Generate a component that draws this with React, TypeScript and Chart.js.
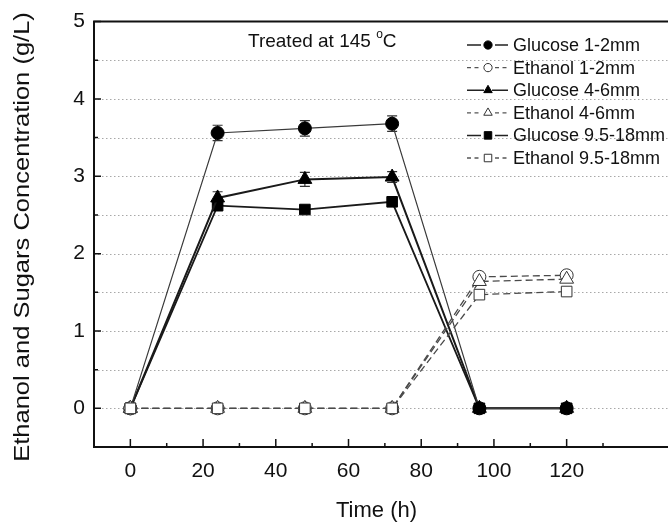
import React, { useEffect, useRef } from 'react';
import { Chart, registerables } from 'chart.js';

Chart.register(...registerables);

const times = [0, 24, 48, 72, 96, 120];
const glucose12 = [0, 3.56, 3.62, 3.68, 0, 0];
const glucose12Err = [0, 0.1, 0.1, 0.1, 0, 0];
const ethanol12 = [0, 0, 0, 0, 1.7, 1.72];
const ethanol12Err = [0, 0, 0, 0, 0.04, 0.04];
const glucose46 = [0, 2.72, 2.96, 2.99, 0, 0];
const glucose46Err = [0, 0.08, 0.09, 0.07, 0, 0];
const ethanol46 = [0, 0, 0, 0, 1.64, 1.67];
const ethanol46Err = [0, 0, 0, 0, 0.04, 0.04];
const glucose918 = [0, 2.62, 2.57, 2.67, 0, 0];
const glucose918Err = [0, 0.04, 0.04, 0.05, 0, 0];
const ethanol918 = [0, 0, 0, 0, 1.47, 1.51];
const ethanol918Err = [0, 0, 0, 0, 0.03, 0.03];

const xMajorTicks = [0, 20, 40, 60, 80, 100, 120];
const xMinorTicks = [10, 30, 50, 70, 90, 110, 130];
const yMajorTicks = [0, 1, 2, 3, 4, 5];
const yMinorTicks = [-0.5, 0.5, 1.5, 2.5, 3.5, 4.5];
const yGridLines = [0, 0.5, 1, 1.5, 2, 2.5, 3, 3.5, 4, 4.5];

const xTitle = 'Time (h)';
const yTitle = 'Ethanol and Sugars Concentration (g/L)';
const noteText = 'Treated at 145 ';
const FONT = '"Liberation Sans", Arial, sans-serif';

const toPts = (arr: number[]) => times.map((t, i) => ({ x: t, y: arr[i] }));

const seriesDefs = [
  { label: 'Glucose 1-2mm', data: glucose12, err: glucose12Err, style: 'circle', filled: true, dash: [] as number[], width: 1.2, color: '#3a3a3a', order: 2 },
  { label: 'Ethanol 1-2mm', data: ethanol12, err: ethanol12Err, style: 'circle', filled: false, dash: [7, 4], width: 1.3, color: '#4a4a4a', order: 1 },
  { label: 'Glucose 4-6mm', data: glucose46, err: glucose46Err, style: 'triangle', filled: true, dash: [] as number[], width: 2, color: '#1a1a1a', order: 2 },
  { label: 'Ethanol 4-6mm', data: ethanol46, err: ethanol46Err, style: 'triangle', filled: false, dash: [7, 4], width: 1.3, color: '#4a4a4a', order: 0.5 },
  { label: 'Glucose 9.5-18mm', data: glucose918, err: glucose918Err, style: 'rect', filled: true, dash: [] as number[], width: 1.8, color: '#1a1a1a', order: 2 },
  { label: 'Ethanol 9.5-18mm', data: ethanol918, err: ethanol918Err, style: 'rect', filled: false, dash: [7, 4], width: 1.3, color: '#4a4a4a', order: 0 },
];

function markerRadius(style: string) {
  if (style === 'circle') return 6.5;
  if (style === 'triangle') return 8;
  return 7.5;
}

function drawMarker(ctx: CanvasRenderingContext2D, style: string, x: number, y: number, filled: boolean, small: boolean) {
  ctx.save();
  ctx.setLineDash([]);
  ctx.lineWidth = 1;
  ctx.strokeStyle = filled ? '#000' : '#333';
  ctx.fillStyle = filled ? '#000' : '#fff';
  const s = small ? 0.75 : 1;
  ctx.beginPath();
  if (style === 'circle') {
    ctx.arc(x, y, 5.5 * s, 0, Math.PI * 2);
  } else if (style === 'triangle') {
    const r = 6.5 * s;
    ctx.moveTo(x, y - r);
    ctx.lineTo(x + r * 0.866, y + r * 0.5);
    ctx.lineTo(x - r * 0.866, y + r * 0.5);
    ctx.closePath();
  } else {
    const h = 5 * s;
    ctx.rect(x - h, y - h, 2 * h, 2 * h);
  }
  ctx.fill();
  ctx.stroke();
  ctx.restore();
}

const framePlugin = {
  id: 'frame',
  beforeDatasetsDraw(chart: any) {
    const { ctx, chartArea } = chart;
    const xs = chart.scales.x;
    const ys = chart.scales.y;
    const { left, top, bottom } = chartArea;
    const right = chart.width;
    ctx.save();
    // dotted grid lines
    ctx.strokeStyle = '#a8a8a8';
    ctx.lineWidth = 1;
    ctx.setLineDash([1.5, 2.5]);
    yGridLines.forEach((v) => {
      const py = Math.round(ys.getPixelForValue(v)) + 0.5;
      ctx.beginPath();
      ctx.moveTo(left, py);
      ctx.lineTo(right, py);
      ctx.stroke();
    });
    ctx.setLineDash([]);
    // error bars
    chart.data.datasets.forEach((ds: any, di: number) => {
      const meta = chart.getDatasetMeta(di);
      const err: number[] = seriesDefs[di].err;
      meta.data.forEach((pt: any, i: number) => {
        const e = err[i];
        if (!e) return;
        const v = ds.data[i].y;
        const px = pt.x;
        const y1 = ys.getPixelForValue(v + e);
        const y2 = ys.getPixelForValue(v - e);
        ctx.strokeStyle = '#333';
        ctx.lineWidth = 1.2;
        ctx.beginPath();
        ctx.moveTo(px, y1);
        ctx.lineTo(px, y2);
        ctx.moveTo(px - 5, y1);
        ctx.lineTo(px + 5, y1);
        ctx.moveTo(px - 5, y2);
        ctx.lineTo(px + 5, y2);
        ctx.stroke();
      });
    });
    // frame
    ctx.strokeStyle = '#111';
    ctx.lineWidth = 2;
    ctx.beginPath();
    ctx.moveTo(left, bottom);
    ctx.lineTo(left, top);
    ctx.lineTo(right, top);
    ctx.moveTo(left - 1, bottom);
    ctx.lineTo(right, bottom);
    ctx.stroke();
    // inner ticks
    ctx.lineWidth = 1.5;
    ctx.beginPath();
    xMajorTicks.forEach((v) => {
      const px = xs.getPixelForValue(v);
      ctx.moveTo(px, bottom);
      ctx.lineTo(px, bottom - 8);
    });
    xMinorTicks.forEach((v) => {
      const px = xs.getPixelForValue(v);
      ctx.moveTo(px, bottom);
      ctx.lineTo(px, bottom - 4);
    });
    yMajorTicks.forEach((v) => {
      const py = ys.getPixelForValue(v);
      ctx.moveTo(left, py);
      ctx.lineTo(left + 7, py);
    });
    yMinorTicks.forEach((v) => {
      const py = ys.getPixelForValue(v);
      ctx.moveTo(left, py);
      ctx.lineTo(left + 4, py);
    });
    ctx.stroke();
    ctx.restore();
  },
  afterDraw(chart: any) {
    const { ctx } = chart;
    ctx.save();
    // note text
    ctx.fillStyle = '#111';
    ctx.textBaseline = 'alphabetic';
    ctx.textAlign = 'left';
    ctx.font = `19px ${FONT}`;
    const nx = 248;
    const ny = 47;
    ctx.fillText(noteText, nx, ny);
    const w = ctx.measureText(noteText).width;
    ctx.font = `12px ${FONT}`;
    ctx.fillText('o', nx + w, ny - 9);
    const ow = ctx.measureText('o').width;
    ctx.font = `19px ${FONT}`;
    ctx.fillText('C', nx + w + ow, ny);

    // legend
    const lx0 = 467;
    const lx1 = 508;
    const mx = 488;
    const rowY0 = 45;
    const rowH = 22.6;
    seriesDefs.forEach((s, i) => {
      const y = rowY0 + i * rowH;
      ctx.strokeStyle = s.filled ? '#222' : '#555';
      ctx.lineWidth = s.filled ? 1.5 : 1.3;
      ctx.setLineDash(s.filled ? [] : [4, 3.5]);
      const gap = s.style === 'triangle' && s.filled ? 0 : 6;
      ctx.beginPath();
      ctx.moveTo(lx0, y);
      ctx.lineTo(mx - 4 - gap / 2, y);
      ctx.moveTo(mx + 4 + gap / 2, y);
      ctx.lineTo(lx1, y);
      ctx.stroke();
      ctx.setLineDash([]);
      drawMarker(ctx, s.style, mx, y, s.filled, true);
      ctx.fillStyle = '#111';
      ctx.font = `18px ${FONT}`;
      ctx.textBaseline = 'middle';
      ctx.fillText(s.label, 513, y + 1);
    });

    // y title (stretched along its length)
    ctx.translate(23, 237);
    ctx.rotate(-Math.PI / 2);
    ctx.scale(1.16, 1);
    ctx.font = `22px ${FONT}`;
    ctx.textAlign = 'center';
    ctx.textBaseline = 'middle';
    ctx.fillStyle = '#111';
    ctx.fillText(yTitle, 0, 0);
    ctx.restore();
  },
};

export default function App() {
  const ref = useRef<HTMLCanvasElement | null>(null);
  useEffect(() => {
    if (!ref.current) return;
    const chart = new Chart(ref.current, {
      type: 'line',
      data: {
        datasets: seriesDefs.map((s) => ({
          label: s.label,
          data: toPts(s.data),
          borderColor: s.color,
          borderWidth: s.width,
          borderDash: s.dash,
          pointStyle: s.style,
          pointRadius: markerRadius(s.style),
          pointBorderWidth: 1,
          pointBackgroundColor: s.filled ? '#000' : '#fff',
          pointBorderColor: s.filled ? '#000' : '#333',
          tension: 0,
          fill: false,
          order: s.order,
        })),
      },
      options: {
        animation: false,
        responsive: false,
        devicePixelRatio: 1,
        layout: { padding: { top: 18, left: 0, right: 0, bottom: 0 } },
        plugins: {
          legend: { display: false },
          tooltip: { enabled: false },
        },
        scales: {
          x: {
            type: 'linear',
            min: -10,
            max: 145.4,
            grid: { display: false, drawTicks: false, tickLength: 0 },
            border: { display: false },
            afterBuildTicks: (s: any) => {
              s.ticks = xMajorTicks.map((v) => ({ value: v }));
            },
            afterFit: (s: any) => {
              s.height = 82;
            },
            ticks: {
              autoSkip: false,
              maxRotation: 0,
              padding: 12,
              color: '#111',
              font: { family: FONT, size: 21 },
            },
            title: {
              display: true,
              text: xTitle,
              color: '#111',
              font: { family: FONT, size: 22 },
              padding: { top: 6, bottom: 5 },
            },
          },
          y: {
            type: 'linear',
            min: -0.5,
            max: 5,
            grid: { display: false, drawTicks: false, tickLength: 0 },
            border: { display: false },
            afterBuildTicks: (s: any) => {
              s.ticks = yMajorTicks.map((v) => ({ value: v }));
            },
            afterFit: (s: any) => {
              s.width = 94;
            },
            ticks: {
              autoSkip: false,
              padding: 9,
              color: '#111',
              font: { family: FONT, size: 21 },
            },
          },
        },
      },
      plugins: [framePlugin],
    });
    return () => chart.destroy();
  }, []);
  return (
    <div style={{ position: 'absolute', left: 0, top: 0, width: 668, height: 529, background: '#fff' }}>
      <canvas ref={ref} width={668} height={529} />
    </div>
  );
}
